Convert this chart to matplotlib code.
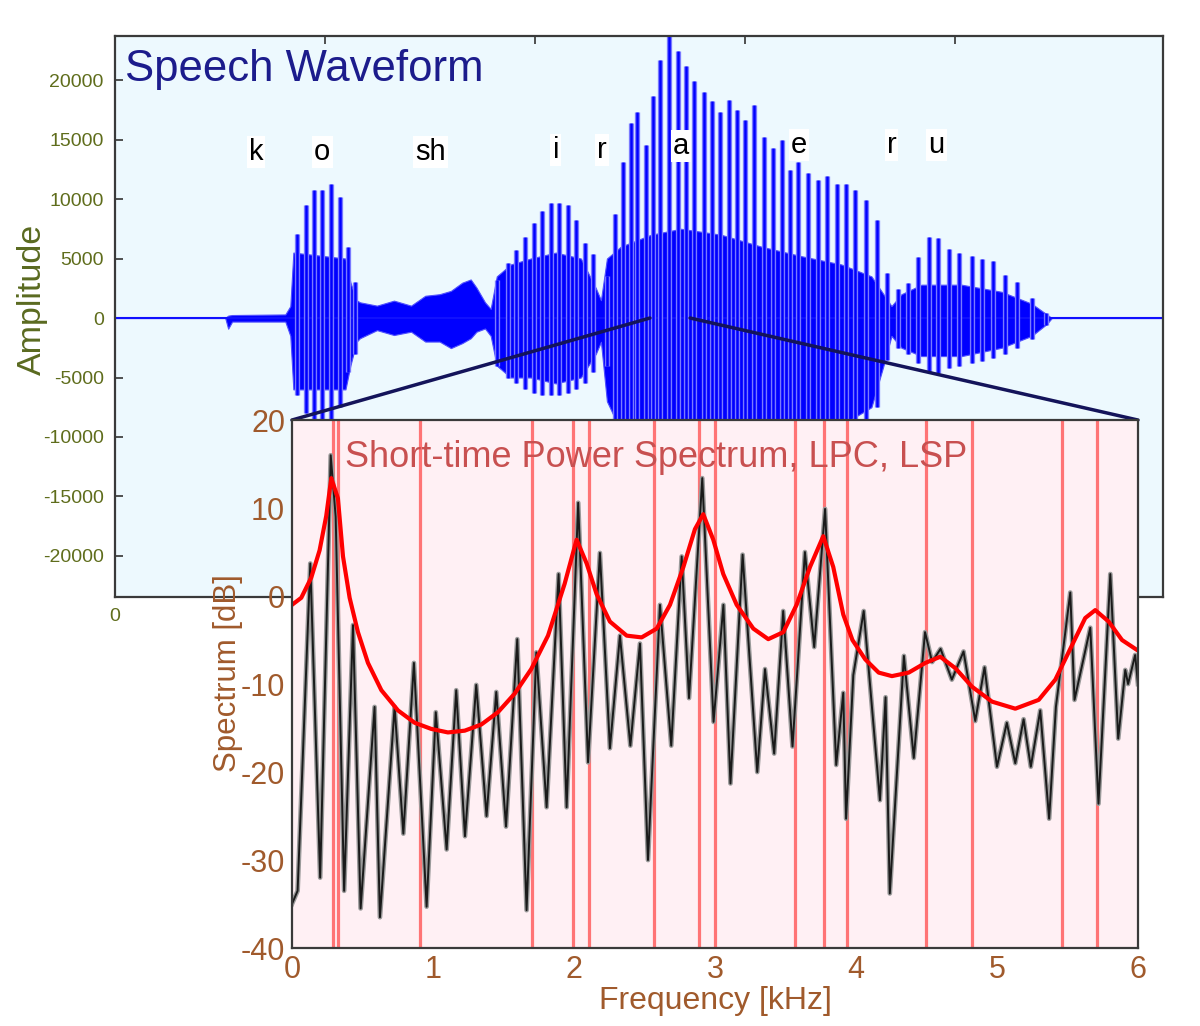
import matplotlib.pyplot as plt
from matplotlib.patches import ConnectionPatch

plt.rcParams['font.family'] = ['Liberation Sans', 'DejaVu Sans']
plt.rcParams['axes.unicode_minus'] = False

# ---- speech waveform (time in ms, amplitude) ----
# dense body of the signal: upper / lower envelope
env_t = [0, 105, 107.8, 111.6, 162.2, 167, 169.9, 219.5, 224.2, 230, 233.3, 249.5, 265.7, 282.0,
         295.5, 309.1, 319.9, 330.7, 338.8, 344.3, 352.4, 357.8, 363.6, 376.9, 396, 419.8, 443.7,
         458, 462.8, 468.5, 481.8, 510.5, 539.1, 577.3, 615.5, 653.6, 691.8, 720.4, 731.9, 739.5,
         749, 768.1, 806.3, 844.5, 873.1, 887.4, 892.2, 1000]
env_hi = [0, 0, 200, 250, 300, 1000, 5500, 5000, 3000, 1500, 1320, 1040, 1460, 1040,
          1870, 2000, 2280, 2970, 3240, 2550, 1320, 770, 3500, 4500, 5000, 5500, 5000,
          2500, 1500, 5000, 6000, 7000, 7500, 7000, 6000, 5200, 4500, 3500, 2000, 1000,
          2000, 2800, 2800, 2200, 1200, 300, 0, 0]
env_lo = [0, 0, -900, -300, -300, -1500, -6000, -6000, -4000, -2000, -1700, -1020, -1430, -1150,
          -1980, -1980, -2530, -2110, -1700, -1150, -880, -1500, -4000, -5000, -5000, -5500, -5000,
          -3000, -2000, -7000, -9500, -9500, -9500, -9500, -9500, -9500, -9000, -7500, -4000, -1500,
          -2500, -3200, -3200, -2500, -1500, -500, 0, 0]

# pitch pulses of the voiced parts
o_t = [173.7, 182.3, 189.9, 197.5, 206.1, 214.7, 222.3, 229.0]
o_hi = [7100, 9500, 10800, 10800, 11300, 10200, 6000, 3000]
o_lo = [-6500, -8000, -8800, -8500, -8800, -7500, -4500, -3000]

i_t = [363.6, 374.0, 381.7, 390.3, 398.9, 406.5, 415.1, 422.7, 431.3, 438.9, 447.5, 455.2]
i_hi = [3200, 4600, 5700, 6800, 8000, 9000, 9700, 9700, 9500, 8200, 6300, 5400]
i_lo = [-4000, -5000, -5500, -6000, -6300, -6500, -6500, -6500, -6300, -6000, -5500, -4500]

a_t = [468.2, 476.6, 484.0, 491.3, 497.5, 505.9, 512.1, 519.4, 527.8, 536.6, 543.9, 551.5,
       560.7, 568.7, 576.0, 584.3, 592.5, 599.7, 608.9, 618.0, 626.4, 635.1, 642.5, 650.9,
       660.0, 669.1, 678.2, 687.4, 695.8, 704.6, 714.8, 725.7, 734.8]
a_hi = [3500, 8700, 13100, 16400, 17300, 14500, 18700, 21700, 24000, 22400, 21200, 19900,
        19000, 18200, 17300, 18300, 17500, 16600, 17900, 15200, 14300, 15000, 12400, 13100,
        12200, 11600, 11900, 11300, 11300, 10800, 9900, 8200, 3800]
a_lo = [-4000, -9000, -12000, -14000, -15000, -14000, -16000, -18000, -19000, -18500, -18000, -17000,
        -16500, -16000, -15500, -16000, -15500, -15000, -15500, -14000, -13500, -14000, -12000, -12500,
        -12000, -11500, -11500, -11000, -11000, -10500, -10000, -7500, -3500]

u_t = [745.8, 754.8, 765.2, 775.0, 784.2, 794.3, 804.2, 816.2, 826.1, 836.0, 848.0, 859.0, 873.6, 886.4]
u_hi = [2400, 2950, 5150, 6800, 6700, 5800, 5500, 5200, 5000, 4800, 3600, 3000, 1700, 400]
u_lo = [-2500, -3000, -3800, -4500, -4600, -4200, -4000, -3800, -3600, -3400, -3000, -2500, -1800, -600]

phones = ['k', 'o', 'sh', 'i', 'r', 'a', 'e', 'r', 'u']
phone_t = [134.5, 197.5, 300.6, 419.8, 463.7, 539.1, 651.7, 739.5, 782.4]
phone_y = [13950, 13950, 13950, 14120, 14120, 14450, 14540, 14540, 14540]

frame_start, frame_end = 509.5, 547.7   # analysed frame (ms)

# ---- short-time spectrum (kHz, dB) ----
spec_f = [0.00, 0.04, 0.13, 0.20, 0.275, 0.31, 0.37, 0.433, 0.487, 0.586, 0.624, 0.728, 0.79, 0.865,
          0.955, 1.02, 1.097, 1.165, 1.227, 1.307, 1.38, 1.449, 1.518, 1.598, 1.664, 1.733, 1.806,
          1.891, 1.948, 2.03, 2.10, 2.184, 2.255, 2.326, 2.40, 2.468, 2.525, 2.61, 2.69, 2.764,
          2.816, 2.91, 2.99, 3.06, 3.11, 3.196, 3.30, 3.355, 3.42, 3.484, 3.55, 3.638, 3.704,
          3.781, 3.86, 3.91, 3.93, 3.981, 4.055, 4.17, 4.21, 4.24, 4.34, 4.41, 4.49, 4.54, 4.60,
          4.68, 4.763, 4.846, 4.912, 5.00, 5.07, 5.13, 5.189, 5.24, 5.307, 5.37, 5.418, 5.52,
          5.55, 5.662, 5.72, 5.804, 5.86, 5.91, 5.93, 5.98, 6.00]
spec_db = [-35.0, -33.5, 3.7, -32.0, 16.0, 9.0, -33.5, -3.3, -35.5, -12.6, -36.5, -12.6, -27.0, -7.6,
           -35.3, -13.2, -28.8, -10.7, -27.3, -10.1, -25.0, -10.9, -26.2, -4.9, -35.7, -6.4, -24.0,
           2.5, -24.0, 10.6, -18.9, 4.9, -17.3, -4.5, -17.0, -5.4, -30.0, -1.0, -17.0, 4.5,
           -11.6, 13.4, -14.3, -1.0, -21.3, 4.7, -20.0, -8.3, -17.9, -1.7, -17.1, 5.0, -5.8,
           9.9, -19.2, -11.0, -25.3, -9.0, -1.7, -23.2, -11.5, -33.8, -6.8, -18.4, -4.1, -7.5, -6.0,
           -9.5, -6.3, -14.2, -8.1, -19.4, -14.4, -19.0, -14.0, -19.4, -13.0, -25.3, -12.6, 0.4,
           -11.8, -3.6, -23.6, 2.5, -16.2, -8.4, -10.0, -6.7, -10.0]

lpc_f = [0.0, 0.066, 0.137, 0.196, 0.243, 0.279, 0.326, 0.362, 0.409, 0.468, 0.539, 0.634, 0.752,
         0.87, 0.988, 1.106, 1.225, 1.343, 1.461, 1.579, 1.697, 1.816, 1.934, 2.005, 2.019, 2.09,
         2.161, 2.255, 2.374, 2.48, 2.587, 2.681, 2.776, 2.858, 2.917, 2.988, 3.059, 3.154, 3.272,
         3.378, 3.485, 3.579, 3.674, 3.768, 3.839, 3.91, 3.975, 4.066, 4.161, 4.255, 4.374, 4.492,
         4.598, 4.705, 4.823, 4.965, 5.13, 5.296, 5.414, 5.532, 5.626, 5.697, 5.792, 5.887, 6.0]
lpc_db = [-1.0, -0.2, 2.1, 5.2, 9.1, 13.4, 11.1, 4.5, -0.2, -4.1, -7.6, -10.7, -13.0,
          -14.4, -15.1, -15.5, -15.3, -14.6, -13.2, -11.1, -8.3, -4.5, 1.4, 5.6, 6.4, 3.7,
          0.2, -2.9, -4.5, -4.7, -3.7, -1.0, 3.3, 7.6, 9.3, 6.4, 2.5, -1.0, -3.7,
          -4.9, -4.1, -1.0, 3.3, 6.8, 3.3, -2.1, -5.0, -7.2, -8.7, -9.1, -8.7, -7.6,
          -6.9, -8.2, -10.3, -12.0, -12.8, -11.8, -9.5, -5.6, -2.5, -1.6, -2.9, -5.0, -6.2]

lsp_f = [0.29, 0.33, 0.91, 1.70, 1.99, 2.11, 2.57, 2.89, 3.00, 3.57, 3.77, 3.94, 4.50, 4.82, 5.46, 5.71]

olive = '#5f6d1c'
brown = '#a05a2c'

fig = plt.figure(figsize=(12, 10.26), dpi=100)

# upper panel: waveform
ax1 = fig.add_axes([0.0958, 0.4181, 0.8733, 0.5468], zorder=0)
ax1.set_facecolor('#edf9fe')
ax1.axhline(0, color='#1010ff', lw=1.5)
ax1.fill_between(env_t, env_lo, env_hi, color='#0000ff', lw=0.8, edgecolor='#5050ff')
for tt, hh, ll in [(o_t, o_hi, o_lo), (i_t, i_hi, i_lo), (a_t, a_hi, a_lo), (u_t, u_hi, u_lo)]:
    ax1.vlines(tt, ll, hh, color='#7a7aff', lw=3.8)
    ax1.vlines(tt, ll, hh, color='#0000ff', lw=1.8)
for lab, tx, ty in zip(phones, phone_t, phone_y):
    ax1.text(tx, ty, lab, fontsize=21, ha='center', va='center', color='black', zorder=5,
             bbox=dict(facecolor='white', edgecolor='none', pad=1.5))
ax1.text(0.0095, 0.94, 'Speech Waveform', transform=ax1.transAxes, fontsize=31.5,
         color='#1c1c8c', va='center', ha='left')
ax1.set_xlim(0, 998)
ax1.set_ylim(-23450, 23700)
ax1.set_xticks([0, 200, 400, 600, 800])
ax1.set_xticklabels(['0', '', '', '', ''])
ax1.set_yticks(range(-20000, 20001, 5000))
ax1.tick_params(direction='in', top=True, length=6, width=1.2, labelsize=14,
                labelcolor=olive, pad=8, color='#333333')
ax1.set_ylabel('Amplitude', fontsize=24.5, color='#5a6a20')
ax1.yaxis.set_label_coords(-0.064, 0.53)
for sp in ax1.spines.values():
    sp.set_color('#3a3a3a')
    sp.set_linewidth(1.6)

# lower panel: spectrum
ax2 = fig.add_axes([0.2433, 0.076, 0.705, 0.5146], zorder=3)
ax2.set_facecolor('#fff0f4')
for f in lsp_f:
    ax2.axvline(f, color='#ff4a4a', lw=2.3, alpha=0.75)
ax2.plot(spec_f, spec_db, color='#9a9a9a', lw=3.4)
ax2.plot(spec_f, spec_db, color='#1a1a1a', lw=1.4)
ax2.plot(lpc_f, lpc_db, color='#ff0000', lw=3)
ax2.text(0.063, 0.93, 'Short-time Power Spectrum, LPC, LSP', transform=ax2.transAxes,
         fontsize=26, color='#c85050', va='center', ha='left')
ax2.set_xlim(0, 6)
ax2.set_ylim(-40, 20)
ax2.set_xticks(range(0, 7))
ax2.set_yticks(range(-40, 21, 10))
ax2.tick_params(length=0, labelsize=22, labelcolor=brown, pad=5)
ax2.set_xlabel('Frequency [kHz]', fontsize=23, color=brown, labelpad=1)
ax2.set_ylabel('Spectrum [dB]', fontsize=22.5, color=brown)
ax2.yaxis.set_label_coords(-0.058, 0.52)
for sp in ax2.spines.values():
    sp.set_color('#3a3a3a')
    sp.set_linewidth(1.6)

# zoom lines from the analysed frame to the spectrum panel
for t0, f0 in [(frame_start, 0), (frame_end, 6)]:
    con = ConnectionPatch(xyA=(t0, 0), coordsA=ax1.transData, xyB=(f0, 20), coordsB=ax2.transData,
                          color='#14145a', lw=2.5, zorder=2)
    fig.add_artist(con)

fig.savefig('out.png', dpi=100, facecolor='white')
